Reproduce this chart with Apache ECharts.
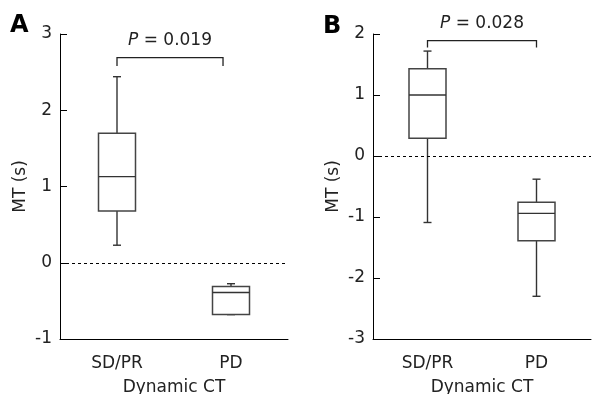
<!DOCTYPE html>
<html>
<head>
<meta charset="utf-8">
<script src="https://cdn.jsdelivr.net/npm/echarts@6/dist/echarts.min.js"></script>
<style>
  html, body { margin: 0; background: #fff; }
  #chart { width: 596px; height: 394px; }
</style>
</head>
<body>
<div id="chart"></div>
<script>
const groups = ['SD/PR', 'PD'];
// each box: [min, Q1, median, Q3, max]
const boxA = [[0.23, 0.68, 1.13, 1.70, 2.44], [-0.68, -0.68, -0.39, -0.31, -0.275]];
const boxB = [[-1.09, 0.29, 1.00, 1.43, 1.72], [-2.30, -1.39, -0.94, -0.76, -0.38]];
const yRangeA = [-1, 3];
const yRangeB = [-3, 2];
// bracket: [from group, to group, top value, tip value, how far to the right group it reaches]
const bracketA = [0, 1, 2.69, 2.58, 0.93];
const bracketB = [0, 1, 1.89, 1.78, 1];
const pA = '0.019';
const pB = '0.028';

const FONT = 'DejaVu Sans';
const ink = '#222';

const chart = echarts.init(document.getElementById('chart'));

function renderBox(params, api) {
    const x = api.coord([api.value(0), 0])[0];
    const py = (i) => api.coord([api.value(0), api.value(i)])[1];
    const lo = py(1), q1 = py(2), med = py(3), q3 = py(4), hi = py(5);
    const hw = 18.5, cap = 4;
    const st = { stroke: '#333', lineWidth: 1.4, fill: null };
    return {
        type: 'group',
        children: [
            { type: 'line', shape: { x1: x, y1: q3, x2: x, y2: hi }, style: st },
            { type: 'line', shape: { x1: x - cap, y1: hi, x2: x + cap, y2: hi }, style: st },
            { type: 'line', shape: { x1: x, y1: q1, x2: x, y2: lo }, style: st },
            { type: 'line', shape: { x1: x - cap, y1: lo, x2: x + cap, y2: lo }, style: st },
            { type: 'rect', shape: { x: x - hw, y: q3, width: hw * 2, height: q1 - q3 },
              style: { stroke: '#444', lineWidth: 1.5, fill: '#fff' } },
            { type: 'line', shape: { x1: x - hw, y1: med, x2: x + hw, y2: med }, style: st }
        ]
    };
}

function bracketRenderer(pText) {
    return function (params, api) {
        const a = api.coord([api.value(0), api.value(2)]);
        const b = api.coord([api.value(1), api.value(2)]);
        const tip = api.coord([api.value(0), api.value(3)])[1];
        const x1 = a[0];
        const x2 = a[0] + (b[0] - a[0]) * api.value(4);
        const y = a[1];
        return {
            type: 'group',
            children: [
                { type: 'polyline', shape: { points: [[x1, tip], [x1, y], [x2, y], [x2, tip]] },
                  style: { stroke: '#222', lineWidth: 1.3, fill: null } },
                { type: 'text', style: {
                    text: '{i|P} = ' + pText, x: (x1 + x2) / 2, y: y - 17,
                    align: 'center', verticalAlign: 'middle',
                    fontSize: 17, fontFamily: FONT, fill: ink,
                    rich: { i: { fontStyle: 'italic', fontSize: 17, fontFamily: FONT, fill: ink } }
                } }
            ]
        };
    };
}

const zeroLine = {
    silent: true,
    symbol: 'none',
    label: { show: false },
    lineStyle: { type: [3, 3], color: '#000', width: 1 },
    data: [{ yAxis: 0 }]
};

function xAxisFor(i) {
    return {
        type: 'category', gridIndex: i, data: groups,
        axisTick: { show: false },
        axisLine: { onZero: false, lineStyle: { color: '#000', width: 1 } },
        axisLabel: { color: ink, fontSize: 17, fontFamily: FONT, margin: 16 },
        name: 'Dynamic CT', nameLocation: 'middle', nameGap: 40,
        nameTextStyle: { color: ink, fontSize: 17, fontFamily: FONT }
    };
}

function yAxisFor(i, range) {
    return {
        type: 'value', gridIndex: i, min: range[0], max: range[1], interval: 1,
        splitLine: { show: false },
        axisLine: { show: true, lineStyle: { color: '#000', width: 1 } },
        axisTick: { show: true, inside: true, length: 7, lineStyle: { color: '#000' } },
        axisLabel: { color: ink, fontSize: 17, fontFamily: FONT, margin: 8 },
        name: 'MT (s)', nameLocation: 'middle', nameGap: 31,
        nameTextStyle: { color: ink, fontSize: 17, fontFamily: FONT }
    };
}

chart.setOption({
    animation: false,
    grid: [
        { left: 60, top: 34, width: 228, bottom: 55, outerBoundsMode: 'none' },
        { left: 373, top: 34, width: 218, bottom: 55, outerBoundsMode: 'none' }
    ],
    xAxis: [xAxisFor(0), xAxisFor(1)],
    yAxis: [yAxisFor(0, yRangeA), yAxisFor(1, yRangeB)],
    graphic: [
        { type: 'text', left: 10, top: 14, style: { text: 'A', font: 'bold 24px ' + FONT, fill: '#000' } },
        { type: 'text', left: 323, top: 15, style: { text: 'B', font: 'bold 24px ' + FONT, fill: '#000' } }
    ],
    series: [
        { type: 'custom', xAxisIndex: 0, yAxisIndex: 0, renderItem: renderBox,
          data: boxA.map((b, i) => [i, ...b]), markLine: zeroLine, z: 3 },
        { type: 'custom', xAxisIndex: 1, yAxisIndex: 1, renderItem: renderBox,
          data: boxB.map((b, i) => [i, ...b]), markLine: zeroLine, z: 3 },
        { type: 'custom', xAxisIndex: 0, yAxisIndex: 0, renderItem: bracketRenderer(pA),
          data: [bracketA], clip: false },
        { type: 'custom', xAxisIndex: 1, yAxisIndex: 1, renderItem: bracketRenderer(pB),
          data: [bracketB], clip: false }
    ]
});
</script>
</body>
</html>
